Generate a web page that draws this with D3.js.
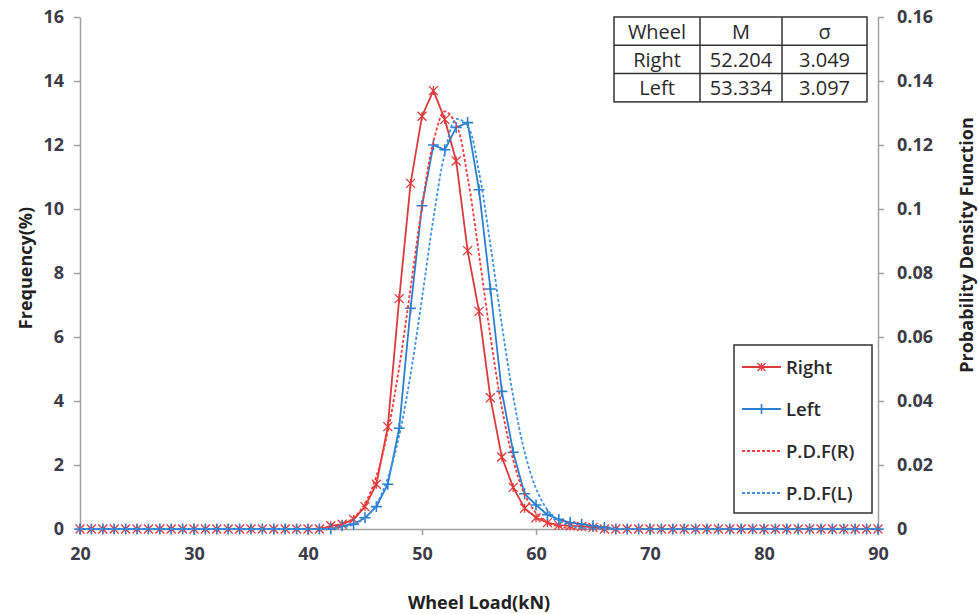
<!DOCTYPE html>
<html lang="en">
<head>
<meta charset="UTF-8">
<title>Wheel Load Distribution</title>
<script src="https://d3js.org/d3.v7.min.js"></script>
<style>
  body { margin: 0; background: #fff; }
  svg text { font-family: "Open Sans", Lato, sans-serif; }
</style>
</head>
<body>
<svg id="chart" width="979" height="614"></svg>
<script>
// x categories (kN)
var loads = [20,21,22,23,24,25,26,27,28,29,30,31,32,33,34,35,36,37,38,39,
             40,41,42,43,44,45,46,47,48,49,50,51,52,53,54,55,56,57,58,59,
             60,61,62,63,64,65,66,67,68,69,70,71,72,73,74,75,76,77,78,79,
             80,81,82,83,84,85,86,87,88,89,90];

// frequency (%) of right wheel
var rightFreq = [0,0,0,0,0,0,0,0,0,0,0,0,0,0,0,0,0,0,0,0,
                 0,0,0.1,0.15,0.3,0.7,1.4,3.2,7.2,10.8,12.9,13.7,12.8,11.5,8.7,6.8,4.1,2.25,1.3,0.65,
                 0.35,0.2,0.12,0.1,0.08,0.05,0,0,0,0,0,0,0,0,0,0,0,0,0,0,
                 0,0,0,0,0,0,0,0,0,0,0];

// frequency (%) of left wheel
var leftFreq = [0,0,0,0,0,0,0,0,0,0,0,0,0,0,0,0,0,0,0,0,
                0,0,0,0.1,0.15,0.35,0.7,1.4,3.15,6.9,10.1,12.0,11.85,12.55,12.7,10.6,7.5,4.3,2.4,1.1,
                0.75,0.45,0.3,0.2,0.15,0.1,0.05,0,0,0,0,0,0,0,0,0,0,0,0,0,
                0,0,0,0,0,0,0,0,0,0,0];

// probability density (right axis)
var pdfRight = [0,0,0,0,0,0,0,0,0,0,0,0,0,0,0,0,0,0,0,0,
                0,0.0002,0.0005,0.0014,0.0035,0.0080,0.0165,0.0305,0.0505,0.0753,0.1008,0.1210,0.1305,0.1264,0.1100,0.0859,0.0603,0.0380,0.0215,0.0109,
                0.0050,0.0020,0.0008,0.0003,0.0001,0,0,0,0,0,0,0,0,0,0,0,0,0,0,0,
                0,0,0,0,0,0,0,0,0,0,0];

var pdfLeft = [0,0,0,0,0,0,0,0,0,0,0,0,0,0,0,0,0,0,0,0,
               0,0,0.0002,0.0005,0.0014,0.0035,0.0078,0.0159,0.0292,0.0484,0.0721,0.0970,0.1174,0.1281,0.1259,0.1115,0.0889,0.0639,0.0414,0.0241,
               0.0127,0.0060,0.0026,0.0010,0.0003,0.0001,0,0,0,0,0,0,0,0,0,0,0,0,0,0,
               0,0,0,0,0,0,0,0,0,0,0];

var xTicks = [20,30,40,50,60,70,80,90];
var yTicks = [0,2,4,6,8,10,12,14,16];
var y2Ticks = [0,0.02,0.04,0.06,0.08,0.1,0.12,0.14,0.16];

// summary table
var tableHead = ["Wheel", "M", "\u03c3"];
var tableRows = [["Right", "52.204", "3.049"],
                 ["Left", "53.334", "3.097"]];

var legendNames = ["Right", "Left", "P.D.F(R)", "P.D.F(L)"];

var W = 979, H = 614;
var margin = {top: 17, right: 101, bottom: 85, left: 80};
var w = W - margin.left - margin.right;
var h = H - margin.top - margin.bottom;

var red = "#dc3a3c", blue = "#2b7fce", redDash = "#ff3b3b", blueDash = "#3d94e0";
var axisColor = "#a0a0a0", labelColor = "#3c3c48";

var svg = d3.select("#chart");
var g = svg.append("g").attr("transform", "translate(" + margin.left + "," + margin.top + ")");

var x = d3.scaleLinear().domain([20, 90]).range([0, w]);
var y = d3.scaleLinear().domain([0, 16]).range([h, 0]);
var y2 = d3.scaleLinear().domain([0, 0.16]).range([h, 0]);

// axes
var gx = g.append("g").attr("transform", "translate(0," + h + ")")
  .call(d3.axisBottom(x).tickValues(xTicks).tickSize(6).tickPadding(12).tickSizeOuter(0));
var gy = g.append("g")
  .call(d3.axisLeft(y).tickValues(yTicks).tickSize(6).tickPadding(10).tickSizeOuter(0));
var gy2 = g.append("g").attr("transform", "translate(" + w + ",0)")
  .call(d3.axisRight(y2).tickValues(y2Ticks).tickFormat(d3.format("~g")).tickSize(6).tickPadding(13).tickSizeOuter(0));

[gx, gy, gy2].forEach(function(a) {
  a.select(".domain").attr("stroke", axisColor).attr("stroke-width", 1.5);
  a.selectAll(".tick line").attr("stroke", axisColor).attr("stroke-width", 1.5);
  a.selectAll(".tick text")
    .attr("fill", labelColor)
    .style("font-size", "18px")
    .style("font-weight", "bold");
});

// axis titles
svg.append("text")
  .attr("x", 479).attr("y", 609)
  .attr("text-anchor", "middle")
  .style("font-size", "18px").style("font-weight", "bold").attr("fill", "#222")
  .text("Wheel Load(kN)");

svg.append("text")
  .attr("transform", "translate(32,268) rotate(-90)")
  .attr("text-anchor", "middle")
  .style("font-size", "18px").style("font-weight", "bold").attr("fill", "#222")
  .text("Frequency(%)");

svg.append("text")
  .attr("transform", "translate(973,245) rotate(-90)")
  .attr("text-anchor", "middle")
  .style("font-size", "18px").style("font-weight", "bold").attr("fill", "#222")
  .text("Probability Density Function");

// lines
var lineY = function(vals) {
  return d3.line().x(function(d, i) { return x(loads[i]); }).y(function(d) { return y(d); })(vals);
};
var lineY2 = function(vals) {
  return d3.line().curve(d3.curveCatmullRom)
    .x(function(d, i) { return x(loads[i]); }).y(function(d) { return y2(d); })(vals);
};

g.append("path").attr("d", lineY(rightFreq))
  .attr("fill", "none").attr("stroke", red).attr("stroke-width", 1.8);
g.append("path").attr("d", lineY(leftFreq))
  .attr("fill", "none").attr("stroke", blue).attr("stroke-width", 1.8);

// markers
function starMarker(sel, cx, cy, s, color) {
  sel.append("path")
    .attr("d", "M" + (cx - s) + "," + (cy - s) + "L" + (cx + s) + "," + (cy + s) +
               "M" + (cx - s) + "," + (cy + s) + "L" + (cx + s) + "," + (cy - s) +
               "M" + cx + "," + (cy - s) + "L" + cx + "," + (cy + s))
    .attr("stroke", color).attr("stroke-width", 1.3).attr("fill", "none");
}
function plusMarker(sel, cx, cy, s, color) {
  sel.append("path")
    .attr("d", "M" + (cx - s) + "," + cy + "L" + (cx + s) + "," + cy +
               "M" + cx + "," + (cy - s) + "L" + cx + "," + (cy + s))
    .attr("stroke", color).attr("stroke-width", 1.6).attr("fill", "none");
}

var mk = g.append("g");
rightFreq.forEach(function(v, i) { starMarker(mk, x(loads[i]), y(v), 4.5, red); });
leftFreq.forEach(function(v, i) { plusMarker(mk, x(loads[i]), y(v), 5.5, blue); });

g.append("path").attr("d", lineY2(pdfRight))
  .attr("fill", "none").attr("stroke", redDash).attr("stroke-width", 1.8).attr("stroke-dasharray", "3,2");
g.append("path").attr("d", lineY2(pdfLeft))
  .attr("fill", "none").attr("stroke", blueDash).attr("stroke-width", 1.8).attr("stroke-dasharray", "3,2");

// table
var tb = svg.append("g").attr("transform", "translate(614,17)");
var colX = [0, 86, 168, 253];
var rowH = 28.3;
var allRows = [tableHead].concat(tableRows);
tb.append("rect").attr("width", colX[3]).attr("height", rowH * 3)
  .attr("fill", "#fff").attr("stroke", "#333").attr("stroke-width", 1.5);
[1, 2].forEach(function(r) {
  tb.append("line").attr("x1", 0).attr("x2", colX[3]).attr("y1", r * rowH).attr("y2", r * rowH)
    .attr("stroke", "#333").attr("stroke-width", 1.5);
  tb.append("line").attr("x1", colX[r]).attr("x2", colX[r]).attr("y1", 0).attr("y2", rowH * 3)
    .attr("stroke", "#333").attr("stroke-width", 1.5);
});
allRows.forEach(function(row, r) {
  row.forEach(function(cell, c) {
    tb.append("text")
      .attr("x", (colX[c] + colX[c + 1]) / 2).attr("y", r * rowH + 21.5)
      .attr("text-anchor", "middle")
      .style("font-size", "20px").attr("fill", "#2a2a2a")
      .text(cell);
  });
});

// legend
var lg = svg.append("g").attr("transform", "translate(734,345)");
lg.append("rect").attr("width", 138).attr("height", 168)
  .attr("fill", "#fff").attr("stroke", "#333").attr("stroke-width", 1.5);
var legendColors = [red, blue, redDash, blueDash];
legendNames.forEach(function(name, i) {
  var ly = 22 + i * 42;
  var ln = lg.append("line").attr("x1", 8).attr("x2", 47).attr("y1", ly).attr("y2", ly)
    .attr("stroke", legendColors[i]).attr("stroke-width", 1.8);
  if (i >= 2) ln.attr("stroke-dasharray", "3,2");
  if (i === 0) starMarker(lg, 27.5, ly, 4, red);
  if (i === 1) plusMarker(lg, 27.5, ly, 5, blue);
  lg.append("text").attr("x", 52).attr("y", ly + 7)
    .style("font-size", "18.5px").style("font-weight", "600").attr("fill", "#2a2a2a")
    .text(name);
});
</script>
</body>
</html>
